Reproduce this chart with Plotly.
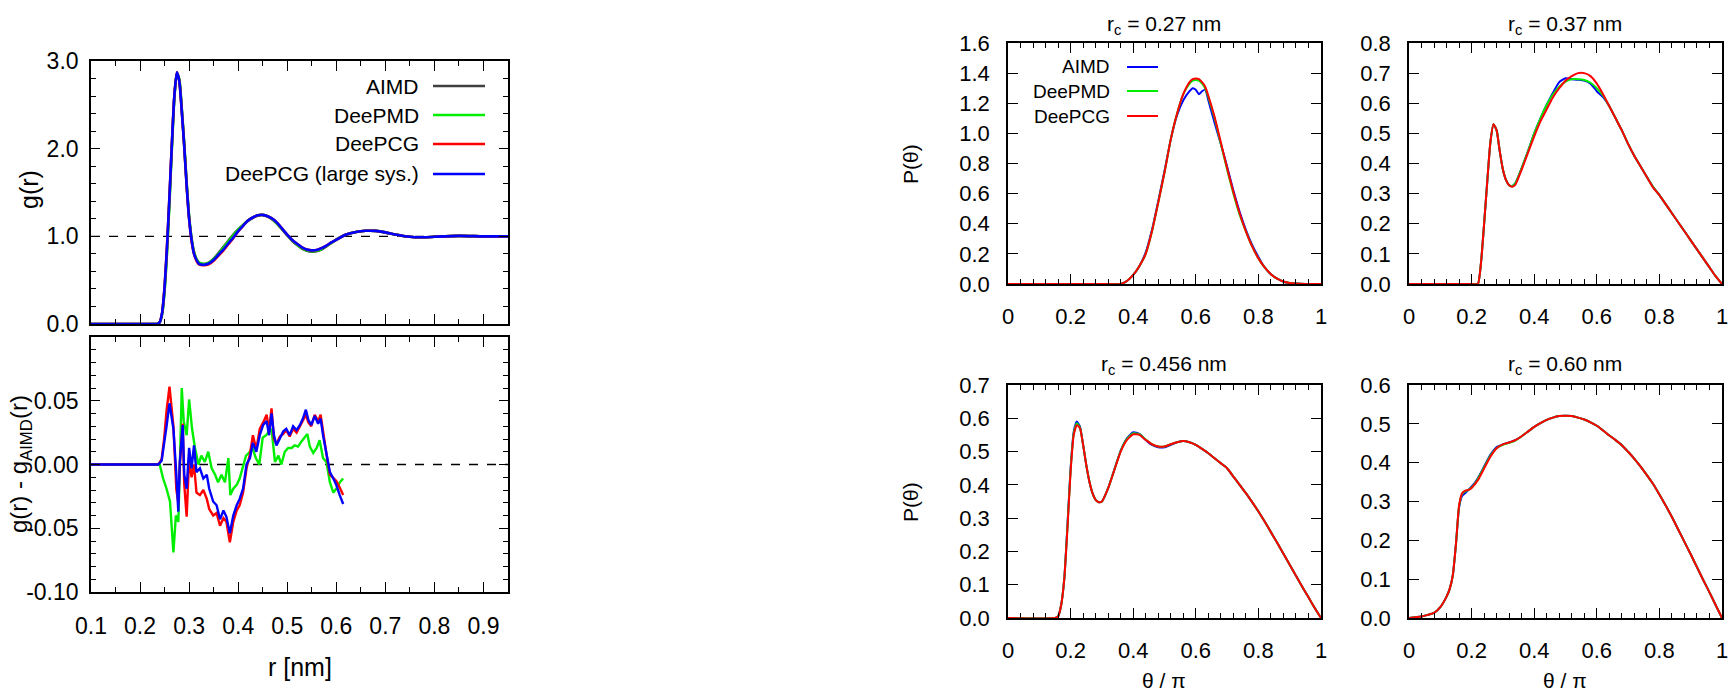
import plotly.graph_objects as go

# ---------------- data: g(r) ----------------
r_top = [0.10, 0.20, 0.23, 0.235, 0.24, 0.245, 0.25, 0.255, 0.26, 0.265, 0.27, 0.275, 0.28, 0.285,
         0.29, 0.295, 0.30, 0.305, 0.31, 0.315, 0.32, 0.33, 0.34, 0.35, 0.36, 0.37, 0.38, 0.39,
         0.40, 0.41, 0.42, 0.43, 0.44, 0.45, 0.46, 0.47, 0.48, 0.49, 0.50, 0.51, 0.52, 0.53, 0.54,
         0.55, 0.56, 0.57, 0.58, 0.59, 0.60, 0.62, 0.64, 0.66, 0.68, 0.70, 0.72, 0.74, 0.76, 0.78,
         0.80, 0.85, 0.90, 0.95]
g_aimd = [0, 0, 0, 0.0, 0.02, 0.12, 0.40, 0.85, 1.42, 2.05, 2.60, 2.86, 2.78, 2.45, 2.05, 1.60,
          1.22, 0.97, 0.82, 0.74, 0.70, 0.685, 0.70, 0.745, 0.81, 0.88, 0.95, 1.02, 1.08, 1.13,
          1.175, 1.21, 1.235, 1.24, 1.225, 1.19, 1.14, 1.075, 1.01, 0.95, 0.90, 0.86, 0.835, 0.825,
          0.83, 0.85, 0.885, 0.925, 0.965, 1.02, 1.05, 1.063, 1.062, 1.045, 1.02, 1.0, 0.99, 0.99,
          0.995, 1.005, 1.0, 1.0]
g_deepmd = [0, 0, 0, 0.0, 0.02, 0.11, 0.38, 0.82, 1.39, 2.02, 2.58, 2.86, 2.79, 2.46, 2.06, 1.61,
            1.23, 0.98, 0.82, 0.74, 0.70, 0.685, 0.70, 0.74, 0.80, 0.87, 0.94, 1.01, 1.075, 1.13,
            1.18, 1.215, 1.24, 1.245, 1.23, 1.195, 1.14, 1.08, 1.015, 0.955, 0.905, 0.865, 0.84, 0.83,
            0.835, 0.855, 0.89, 0.925, 0.96, 1.02, 1.05, 1.063, 1.062, 1.045, 1.02, 1.0, 0.99, 0.99,
            0.995, 1.005, 1.0, 1.0]
g_deepcg = [0, 0, 0, 0.0, 0.02, 0.13, 0.43, 0.90, 1.47, 2.08, 2.61, 2.87, 2.77, 2.43, 2.03, 1.57,
            1.20, 0.95, 0.80, 0.72, 0.68, 0.67, 0.68, 0.72, 0.78, 0.84, 0.91, 0.98, 1.055, 1.12,
            1.18, 1.215, 1.24, 1.245, 1.23, 1.20, 1.15, 1.085, 1.02, 0.96, 0.915, 0.875, 0.85, 0.84,
            0.845, 0.865, 0.895, 0.93, 0.96, 1.02, 1.05, 1.063, 1.062, 1.045, 1.02, 1.0, 0.99, 0.99,
            0.995, 1.005, 1.0, 1.0]
g_large = [0, 0, 0, 0.0, 0.02, 0.13, 0.42, 0.89, 1.46, 2.07, 2.61, 2.87, 2.77, 2.43, 2.03, 1.58,
           1.20, 0.96, 0.80, 0.73, 0.685, 0.675, 0.69, 0.73, 0.79, 0.85, 0.92, 0.985, 1.06, 1.12,
           1.18, 1.215, 1.24, 1.245, 1.23, 1.20, 1.15, 1.085, 1.02, 0.96, 0.915, 0.875, 0.85, 0.84,
           0.845, 0.865, 0.895, 0.93, 0.96, 1.02, 1.05, 1.063, 1.062, 1.045, 1.02, 1.0, 0.99, 0.99,
           0.995, 1.005, 1.0, 1.0]

# ---------------- data: g(r) - g_AIMD(r) ----------------
r_diff = [0.10, 0.237, 0.244, 0.249, 0.254, 0.26, 0.268, 0.274, 0.278, 0.281, 0.287, 0.29, 0.295,
          0.30, 0.305, 0.31, 0.315, 0.322, 0.329, 0.336, 0.341, 0.349, 0.356, 0.363, 0.37, 0.376,
          0.383, 0.39, 0.397, 0.403, 0.41, 0.417, 0.424, 0.43, 0.437, 0.444, 0.451, 0.458, 0.463,
          0.468, 0.473, 0.478, 0.485, 0.492, 0.498, 0.505, 0.512, 0.519, 0.526, 0.532, 0.538, 0.543,
          0.549, 0.556, 0.563, 0.568, 0.573, 0.58, 0.587, 0.594, 0.60, 0.607, 0.614]
d_large = [0, 0, 0.003, 0.015, 0.03, 0.048, 0.028, -0.008, -0.037, 0.002, 0.031, -0.008, -0.019,
           0.013, -0.003, 0.015, -0.006, -0.003, -0.011, -0.008, -0.019, -0.029, -0.032, -0.043,
           -0.036, -0.041, -0.054, -0.04, -0.032, -0.027, -0.019, 0.0, 0.005, 0.017, 0.010, 0.023,
           0.031, 0.034, 0.023, 0.04, 0.023, 0.015, 0.02, 0.026, 0.028, 0.023, 0.030, 0.027, 0.031,
           0.036, 0.043, 0.035, 0.031, 0.038, 0.032, 0.036, 0.023, 0.007, -0.006, -0.011, -0.016,
           -0.024, -0.031]
d_deepcg = [0, 0, 0.004, 0.02, 0.042, 0.061, 0.03, -0.02, -0.03, 0.0, 0.032, -0.015, -0.041, 0.005,
            -0.01, 0.0, -0.022, -0.024, -0.02, -0.027, -0.035, -0.04, -0.038, -0.048, -0.042,
            -0.045, -0.061, -0.045, -0.036, -0.032, -0.022, -0.003, 0.008, 0.023, 0.012, 0.028,
            0.033, 0.039, 0.027, 0.044, 0.02, 0.016, 0.022, 0.024, 0.027, 0.022, 0.028, 0.025, 0.030,
            0.034, 0.039, 0.033, 0.030, 0.039, 0.034, 0.039, 0.025, 0.008, -0.008, -0.011, -0.013,
            -0.018, -0.024]
r_diff_md = [0.10, 0.24, 0.247, 0.254, 0.261, 0.268, 0.273, 0.278, 0.281, 0.285, 0.289, 0.295, 0.30,
             0.306, 0.312, 0.319, 0.325, 0.332, 0.339, 0.346, 0.353, 0.359, 0.366, 0.373, 0.38,
             0.384, 0.39, 0.397, 0.403, 0.409, 0.416, 0.422, 0.429, 0.436, 0.443, 0.45, 0.457,
             0.463, 0.468, 0.475, 0.482, 0.488, 0.495, 0.502, 0.509, 0.515, 0.522, 0.529, 0.536,
             0.541, 0.546, 0.553, 0.56, 0.566, 0.573, 0.58, 0.587, 0.594, 0.60, 0.607, 0.614]
d_deepmd = [0, 0, -0.011, -0.019, -0.029, -0.069, -0.04, -0.045, -0.003, 0.06, 0.034, 0.023, 0.051,
            0.028, 0.013, 0.0, 0.007, 0.002, 0.01, -0.003, -0.008, -0.014, -0.008, -0.014, 0.005,
            -0.024, -0.019, -0.016, -0.011, -0.003, 0.007, 0.009, 0.013, 0.005, 0.0, 0.021, 0.023,
            0.026, 0.028, 0.002, 0.007, 0.0, 0.01, 0.013, 0.013, 0.015, 0.014, 0.018, 0.021, 0.024,
            0.014, 0.009, 0.013, 0.019, 0.005, 0.002, -0.014, -0.022, -0.019, -0.014, -0.011]

# ---------------- data: P(theta) panels ----------------
theta_a = [0.0, 0.30, 0.36, 0.38, 0.40, 0.42, 0.44, 0.46, 0.48, 0.50, 0.52, 0.54, 0.56, 0.58, 0.59,
           0.60, 0.61, 0.62, 0.63, 0.64, 0.66, 0.68, 0.70, 0.72, 0.74, 0.76, 0.78, 0.80, 0.82, 0.84,
           0.86, 0.88, 0.90, 0.95, 1.0]
p_a_aimd = [0, 0, 0, 0.02, 0.06, 0.12, 0.21, 0.36, 0.55, 0.75, 0.96, 1.12, 1.22, 1.28, 1.30, 1.29,
            1.26, 1.28, 1.29, 1.22, 1.07, 0.93, 0.78, 0.62, 0.48, 0.36, 0.26, 0.18, 0.11, 0.065,
            0.035, 0.015, 0.006, 0, 0]
p_a_deepmd = [0, 0, 0, 0.02, 0.06, 0.12, 0.20, 0.35, 0.54, 0.74, 0.96, 1.13, 1.26, 1.33, 1.35,
              1.355, 1.35, 1.33, 1.30, 1.24, 1.10, 0.93, 0.76, 0.60, 0.46, 0.35, 0.25, 0.17, 0.11,
              0.065, 0.035, 0.017, 0.007, 0, 0]
p_a_deepcg = [0, 0, 0, 0.02, 0.06, 0.12, 0.20, 0.35, 0.54, 0.74, 0.96, 1.13, 1.26, 1.34, 1.36,
              1.365, 1.36, 1.34, 1.31, 1.25, 1.11, 0.94, 0.77, 0.61, 0.47, 0.35, 0.25, 0.17, 0.11,
              0.065, 0.035, 0.017, 0.007, 0, 0]

theta_b = [0.0, 0.20, 0.22, 0.23, 0.24, 0.25, 0.26, 0.27, 0.28, 0.29, 0.30, 0.31, 0.32, 0.33, 0.34,
           0.36, 0.38, 0.40, 0.42, 0.44, 0.46, 0.48, 0.50, 0.52, 0.54, 0.56, 0.58, 0.60, 0.62, 0.64,
           0.66, 0.68, 0.70, 0.72, 0.74, 0.76, 0.78, 0.80, 0.82, 0.84, 0.86, 0.88, 0.90, 0.92, 0.94,
           0.96, 0.98, 1.0]
p_b_aimd = [0, 0, 0, 0.07, 0.20, 0.34, 0.47, 0.53, 0.51, 0.44, 0.38, 0.345, 0.328, 0.325, 0.335,
            0.385, 0.44, 0.50, 0.55, 0.595, 0.635, 0.67, 0.683, 0.68, 0.678, 0.675, 0.665, 0.64,
            0.62, 0.59, 0.55, 0.51, 0.465, 0.425, 0.39, 0.355, 0.322, 0.295, 0.265, 0.235, 0.205,
            0.175, 0.145, 0.115, 0.085, 0.055, 0.025, 0]
p_b_deepmd = [0, 0, 0, 0.07, 0.20, 0.34, 0.47, 0.53, 0.51, 0.44, 0.38, 0.345, 0.328, 0.325, 0.335,
              0.385, 0.44, 0.50, 0.55, 0.595, 0.63, 0.655, 0.672, 0.68, 0.68, 0.677, 0.668, 0.65,
              0.625, 0.59, 0.55, 0.51, 0.465, 0.425, 0.39, 0.355, 0.322, 0.295, 0.265, 0.235,
              0.205, 0.175, 0.145, 0.115, 0.085, 0.055, 0.025, 0]
p_b_deepcg = [0, 0, 0, 0.07, 0.20, 0.34, 0.47, 0.53, 0.51, 0.44, 0.38, 0.345, 0.328, 0.323, 0.33,
              0.38, 0.435, 0.49, 0.54, 0.58, 0.62, 0.65, 0.675, 0.69, 0.70, 0.70, 0.69, 0.665, 0.63,
              0.59, 0.55, 0.51, 0.465, 0.425, 0.39, 0.355, 0.32, 0.295, 0.265, 0.235, 0.205, 0.175,
              0.145, 0.115, 0.085, 0.055, 0.025, 0]

theta_c = [0.0, 0.15, 0.16, 0.17, 0.18, 0.19, 0.20, 0.21, 0.22, 0.23, 0.24, 0.25, 0.26, 0.27, 0.28,
           0.29, 0.30, 0.32, 0.34, 0.36, 0.38, 0.40, 0.42, 0.44, 0.46, 0.48, 0.50, 0.52, 0.54, 0.56,
           0.58, 0.60, 0.62, 0.64, 0.66, 0.68, 0.70, 0.72, 0.74, 0.76, 0.78, 0.80, 0.82, 0.84, 0.86,
           0.88, 0.90, 0.92, 0.94, 0.96, 0.98, 1.0]
p_c_aimd = [0, 0, 0.005, 0.04, 0.12, 0.28, 0.45, 0.56, 0.59, 0.575, 0.52, 0.46, 0.41, 0.375, 0.355,
            0.348, 0.35, 0.39, 0.447, 0.503, 0.54, 0.558, 0.553, 0.535, 0.52, 0.513, 0.513, 0.52,
            0.528, 0.532, 0.528, 0.52, 0.508, 0.495, 0.48, 0.465, 0.45, 0.425, 0.40, 0.375, 0.348,
            0.32, 0.29, 0.258, 0.226, 0.193, 0.16, 0.127, 0.094, 0.062, 0.03, 0]
p_c_deepmd = [0, 0, 0.005, 0.04, 0.12, 0.275, 0.445, 0.555, 0.585, 0.572, 0.52, 0.46, 0.41, 0.375,
              0.355, 0.348, 0.35, 0.39, 0.446, 0.502, 0.538, 0.555, 0.552, 0.536, 0.522, 0.515,
              0.515, 0.522, 0.528, 0.532, 0.528, 0.52, 0.508, 0.495, 0.48, 0.465, 0.45, 0.425,
              0.40, 0.375, 0.348, 0.32, 0.29, 0.258, 0.226, 0.193, 0.16, 0.127, 0.094, 0.062,
              0.03, 0]
p_c_deepcg = [0, 0, 0.005, 0.04, 0.12, 0.27, 0.44, 0.55, 0.58, 0.57, 0.52, 0.46, 0.41, 0.375, 0.355,
              0.348, 0.35, 0.39, 0.445, 0.50, 0.535, 0.552, 0.55, 0.535, 0.522, 0.515, 0.515, 0.522,
              0.528, 0.532, 0.528, 0.52, 0.508, 0.495, 0.48, 0.465, 0.45, 0.425, 0.40, 0.375, 0.348,
              0.32, 0.29, 0.258, 0.226, 0.193, 0.16, 0.127, 0.094, 0.062, 0.03, 0]

theta_d = [0.0, 0.02, 0.04, 0.06, 0.08, 0.10, 0.12, 0.13, 0.14, 0.15, 0.16, 0.17, 0.18, 0.19, 0.20,
           0.22, 0.24, 0.26, 0.28, 0.30, 0.32, 0.34, 0.36, 0.38, 0.40, 0.42, 0.44, 0.46, 0.48, 0.50,
           0.52, 0.54, 0.56, 0.58, 0.60, 0.62, 0.64, 0.66, 0.68, 0.70, 0.72, 0.74, 0.76, 0.78, 0.80,
           0.82, 0.84, 0.86, 0.88, 0.90, 0.92, 0.94, 0.96, 0.98, 1.0]
p_d_aimd = [0.0, 0.002, 0.004, 0.008, 0.013, 0.028, 0.055, 0.075, 0.11, 0.19, 0.285, 0.315, 0.322,
            0.33, 0.338, 0.36, 0.39, 0.42, 0.44, 0.447, 0.452, 0.458, 0.468, 0.48, 0.492, 0.502,
            0.51, 0.516, 0.52, 0.521, 0.52, 0.516, 0.511, 0.504, 0.495, 0.483, 0.47, 0.458, 0.445,
            0.428, 0.41, 0.39, 0.368, 0.345, 0.318, 0.29, 0.26, 0.228, 0.196, 0.164, 0.131, 0.098,
            0.066, 0.033, 0.0]
p_d_deepmd = [0.0, 0.002, 0.004, 0.008, 0.013, 0.028, 0.055, 0.075, 0.11, 0.19, 0.288, 0.32, 0.326,
              0.33, 0.336, 0.358, 0.388, 0.418, 0.438, 0.446, 0.451, 0.457, 0.468, 0.48, 0.492,
              0.502, 0.51, 0.516, 0.52, 0.521, 0.52, 0.516, 0.511, 0.504, 0.495, 0.483, 0.47, 0.458,
              0.445, 0.428, 0.41, 0.39, 0.368, 0.345, 0.318, 0.29, 0.26, 0.228, 0.196, 0.164, 0.131,
              0.098, 0.066, 0.033, 0.0]
p_d_deepcg = [0.0, 0.002, 0.004, 0.008, 0.013, 0.028, 0.055, 0.075, 0.11, 0.19, 0.29, 0.322, 0.328,
              0.33, 0.335, 0.355, 0.385, 0.415, 0.437, 0.447, 0.452, 0.458, 0.468, 0.48, 0.492,
              0.502, 0.51, 0.516, 0.52, 0.521, 0.52, 0.516, 0.511, 0.504, 0.495, 0.483, 0.47, 0.458,
              0.445, 0.428, 0.41, 0.39, 0.368, 0.345, 0.318, 0.29, 0.26, 0.228, 0.196, 0.164, 0.131,
              0.098, 0.066, 0.033, 0.0]

panel_titles = ["r<sub>c</sub> = 0.27 nm", "r<sub>c</sub> = 0.37 nm",
                "r<sub>c</sub> = 0.456 nm", "r<sub>c</sub> = 0.60 nm"]
left_names = ["AIMD", "DeePMD", "DeePCG", "DeePCG (large sys.)"]
right_names = ["AIMD", "DeePMD", "DeePCG"]

# ---------------- styling ----------------
W, H = 1728, 691
GRAY, GREEN, RED, BLUE = "#404040", "#00ee00", "#ff0000", "#0000ff"
NARROW = "Liberation Sans Narrow, Arial Narrow, Liberation Sans, Arial, sans-serif"
SANS = "Liberation Sans, Arial, Helvetica, sans-serif"


def fx(p):
    return p / W


def fy(p):
    return 1 - p / H


fig = go.Figure()

# top-left g(r)
for yv, name, col in zip([g_aimd, g_deepmd, g_deepcg, g_large], left_names,
                         [GRAY, GREEN, RED, BLUE]):
    fig.add_trace(go.Scatter(x=r_top, y=yv, name=name, mode="lines",
                             line=dict(color=col, width=2.6, shape="spline", smoothing=0.6),
                             xaxis="x", yaxis="y", showlegend=False))
# bottom-left differences
for xv, yv, name, col in [(r_diff_md, d_deepmd, "DeePMD", GREEN),
                          (r_diff, d_deepcg, "DeePCG", RED),
                          (r_diff, d_large, "DeePCG (large sys.)", BLUE)]:
    fig.add_trace(go.Scatter(x=xv, y=yv, name=name, mode="lines",
                             line=dict(color=col, width=2.4), xaxis="x2", yaxis="y2",
                             showlegend=False))

panels = [(theta_a, p_a_aimd, p_a_deepmd, p_a_deepcg),
          (theta_b, p_b_aimd, p_b_deepmd, p_b_deepcg),
          (theta_c, p_c_aimd, p_c_deepmd, p_c_deepcg),
          (theta_d, p_d_aimd, p_d_deepmd, p_d_deepcg)]
for i, (th, pa, pm, pc) in enumerate(panels):
    k = i + 3
    for yv, name, col in zip([pa, pm, pc], right_names, [BLUE, GREEN, RED]):
        fig.add_trace(go.Scatter(x=th, y=yv, name=name, mode="lines",
                                 line=dict(color=col, width=2, shape="spline", smoothing=0.5),
                                 xaxis="x%d" % k, yaxis="y%d" % k, showlegend=False))


def axis(domain, rng, font, anchor, dtick=None, minor=None, ticklen=10, showlabels=True,
         fmt=None, tickvals=None, ticktext=None, standoff=8, minorlen=5):
    d = dict(domain=domain, range=rng, anchor=anchor, showline=True, linecolor="black",
             linewidth=1.6, mirror="allticks", ticks="inside", ticklen=ticklen, tickwidth=1.4,
             tickcolor="black", showgrid=False, zeroline=False, showticklabels=showlabels,
             automargin=False, ticklabeloverflow="allow",
             tickfont=dict(family=font[0], size=font[1], color="black"),
             ticklabelstandoff=standoff)
    if tickvals is not None:
        d.update(tickmode="array", tickvals=tickvals, ticktext=ticktext)
    else:
        d.update(tick0=0, dtick=dtick)
    if fmt:
        d["tickformat"] = fmt
    if minor:
        d["minor"] = dict(dtick=minor, tick0=0, ticks="inside", ticklen=minorlen,
                          tickwidth=1.2, tickcolor="black", showgrid=False)
    return d


LF = (NARROW, 23)
RF = (SANS, 22)
xl = [fx(91), fx(508)]
xr1 = [fx(1008), fx(1321)]
xr2 = [fx(1409), fx(1722)]
yt = [fy(324), fy(61)]
yb = [fy(592), fy(337)]
yr1 = [fy(284), fy(43)]
yr2 = [fy(618), fy(385)]

fig.update_layout(
    template="none",
    xaxis=axis(xl, [0.1, 0.95], LF, "y", dtick=0.1, minor=0.05, showlabels=False, ticklen=10),
    yaxis=axis(yt, [0, 3.0], LF, "x", dtick=1.0, minor=0.2, fmt=".1f", ticklen=9, standoff=6),
    xaxis2=axis(xl, [0.1, 0.95], LF, "y2", dtick=0.1, minor=0.05, fmt=".1f", ticklen=10,
                standoff=13),
    yaxis2=axis(yb, [-0.1, 0.1], LF, "x2", minor=0.01, ticklen=9, standoff=6,
                tickvals=[-0.1, -0.05, 0, 0.05], ticktext=["-0.10", "-0.05", "0.00", "0.05"]),
    xaxis3=axis(xr1, [0, 1], RF, "y3", dtick=0.2, minor=0.04, standoff=12),
    yaxis3=axis(yr1, [0, 1.6], RF, "x3", dtick=0.2, fmt=".1f", standoff=12),
    xaxis4=axis(xr2, [0, 1], RF, "y4", dtick=0.2, minor=0.04, standoff=12),
    yaxis4=axis(yr1, [0, 0.8], RF, "x4", dtick=0.1, fmt=".1f", standoff=12),
    xaxis5=axis(xr1, [0, 1], RF, "y5", dtick=0.2, minor=0.04, standoff=12),
    yaxis5=axis(yr2, [0, 0.7], RF, "x5", dtick=0.1, fmt=".1f", standoff=12),
    xaxis6=axis(xr2, [0, 1], RF, "y6", dtick=0.2, minor=0.04, standoff=12),
    yaxis6=axis(yr2, [0, 0.6], RF, "x6", dtick=0.1, fmt=".1f", standoff=12),
    width=W, height=H, margin=dict(l=0, r=0, t=0, b=0, pad=0, autoexpand=False),
    paper_bgcolor="white", plot_bgcolor="white", showlegend=False,
)

# dashed reference lines
fig.add_shape(type="line", xref="x domain", yref="y", x0=0, x1=1, y0=1, y1=1,
              line=dict(color="black", width=1.4, dash="dash"), layer="below")
fig.add_shape(type="line", xref="x2 domain", yref="y2", x0=0, x1=1, y0=0, y1=0,
              line=dict(color="black", width=1.4, dash="dash"), layer="below")

ann = []


def text(x, y, s, size, font, angle=0, xanchor="center"):
    ann.append(dict(x=fx(x), y=fy(y), xref="paper", yref="paper", text=s, showarrow=False,
                    xanchor=xanchor, yanchor="middle", textangle=angle,
                    font=dict(family=font, size=size, color="black")))


# axis titles
text(29, 190, "g(r)", 25, NARROW, angle=-90)
text(20, 464, "g(r) - g<sub>AIMD</sub>(r)", 24, NARROW, angle=-90)
text(300, 667, "r [nm]", 25, NARROW)
text(911, 164, "P(θ)", 21, SANS, angle=-90)
text(911, 502, "P(θ)", 21, SANS, angle=-90)
text(1164, 680, "θ / π", 21, SANS)
text(1565, 680, "θ / π", 21, SANS)
# panel titles
text(1164, 25, panel_titles[0], 21, SANS)
text(1565, 25, panel_titles[1], 21, SANS)
text(1164, 365, panel_titles[2], 21, SANS)
text(1565, 365, panel_titles[3], 21, SANS)

# legend: top-left panel
for name, col, yy in zip(left_names, [GRAY, GREEN, RED, BLUE], [86, 115, 144, 174]):
    text(421, yy, name, 21, NARROW, xanchor="right")
    fig.add_shape(type="line", xref="paper", yref="paper", x0=fx(433), x1=fx(485),
                  y0=fy(yy), y1=fy(yy), line=dict(color=col, width=2.6))
# legend: first P(theta) panel
for name, col, yy in zip(right_names, [BLUE, GREEN, RED], [67, 91, 116]):
    text(1112, yy, name, 19, SANS, xanchor="right")
    fig.add_shape(type="line", xref="paper", yref="paper", x0=fx(1127), x1=fx(1158),
                  y0=fy(yy), y1=fy(yy), line=dict(color=col, width=2))

fig.update_layout(annotations=ann)
fig.write_html("out.html", config={"displayModeBar": False},
               post_script="document.body.style.margin='0';document.body.style.padding='0';"
                           "document.body.style.overflow='hidden';")
